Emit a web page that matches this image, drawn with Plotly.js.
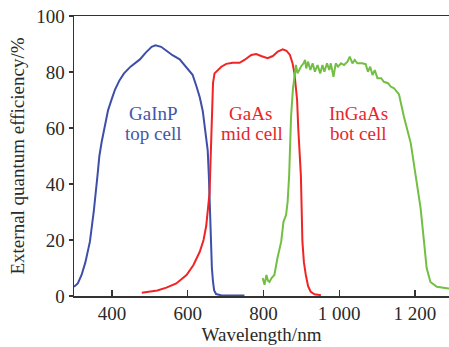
<!DOCTYPE html>
<html>
<head>
<meta charset="utf-8">
<script src="https://cdn.plot.ly/plotly-3.0.1.min.js"></script>
<style>html,body{margin:0;padding:0;background:#fff;}#chart{width:449px;height:347px;}</style>
</head>
<body>
<div id="chart"></div>
<script>
// GaInP top cell
const gainpWl  = [300,310,320,330,342,352,362,367,373,379,390,400,408,420,432,450,474,490,505,515,530,545,560,579,595,613,623,632,640,647,653,656,659,662,664,667,670,675,690,720,750];
const gainpEqe = [3.3,4.5,7.5,12,19.4,30,43,50,55,59.3,66.4,70.5,73.6,77,79.5,82,84.5,87,89,89.5,89,87.5,86,84.5,82,79,75,71,66,59.3,52,43,30,18,10,5,2,0.7,0.2,0.2,0.2];
// GaAs mid cell
const gaasWl  = [479,500,520,544,570,597,615,632,642,649,655,658,660,663,665,667,671,680,689,702,719,737,750,768,781,794,811,825,838,851,861,870,877,882,886,889,892,895,899,903,907,912,918,925,935,952];
const gaasEqe = [1.2,1.5,2,3,4.5,7.5,11,15.8,20,25,32,37,46,60,70,76,79.5,80.7,81.9,82.9,83.3,83.3,84.3,86.1,86.4,85.7,84.9,85.7,87.3,88.1,87.6,86.1,83.1,79.5,74.8,70,60,52,43,19.4,12,7.5,3.5,1.5,0.6,0.3];
// InGaAs bottom cell
const ingaasWl  = [798,803,808,812,816,822,829,837,847,853,860,864,868,873,878,882,886,890,899,906,910,913,918,924,930,936,943,950,956,961,968,974,978,985,991,997,1005,1013,1022,1028,1035,1041,1048,1061,1070,1076,1082,1088,1094,1101,1111,1118,1129,1136,1145,1158,1171,1189,1201,1215,1224,1231,1241,1258,1284,1290];
const ingaasEqe = [6.4,4,7.5,5.5,5,6.5,7.5,13.5,19.4,26.5,29,33.7,43,64,74,78.3,82.5,79.5,81.9,83.1,84.3,81.3,83.7,80.7,83.1,80.1,82.5,79.5,82.5,80.1,83.1,80.7,83.1,78.3,83.1,81.9,83.1,82.5,83.7,85.5,83.1,84.3,83.1,83.1,82.8,80.1,81.9,78.9,80.7,77.8,77.8,76.5,76,74.8,74.2,72,64,54.6,43,31.4,19.4,10,5,3.3,2.8,2.7];

const xTickVals = [400,600,800,1000,1200];
const xTickText = ['400','600','800','1 000','1 200'];
const labels = [
  {x:[153,153], text:['GaInP','top cell'], color:'#4257a8'},
  {x:[250,252], text:['GaAs','mid cell'], color:'#e8262a'},
  {x:[358,358], text:['InGaAs','bot cell'], color:'#e8262a'}
];

const FONT = 'Liberation Serif, Times New Roman, serif';
const traces = [
  {x:gainpWl, y:gainpEqe, mode:'lines', line:{color:'#3d4fa8', width:2}},
  {x:gaasWl, y:gaasEqe, mode:'lines', line:{color:'#f02424', width:2}},
  {x:ingaasWl, y:ingaasEqe, mode:'lines', line:{color:'#72bf44', width:2}}
];

const annotations = [];
labels.forEach(l => {
  annotations.push({xref:'paper', yref:'paper', x:(l.x[0]-74)/375, y:(296-113)/280, text:l.text[0], showarrow:false, font:{family:FONT, size:19, color:l.color}, xanchor:'center', yanchor:'middle'});
  annotations.push({xref:'paper', yref:'paper', x:(l.x[1]-74)/375, y:(296-133)/280, text:l.text[1], showarrow:false, font:{family:FONT, size:19, color:l.color}, xanchor:'center', yanchor:'middle'});
});

const layout = {
  width:449, height:347,
  margin:{l:74, r:0, t:16, b:51},
  paper_bgcolor:'#fff', plot_bgcolor:'#fff',
  showlegend:false,
  font:{family:FONT, size:19, color:'#2a2a2a'},
  xaxis:{range:[300,1290], tickvals:xTickVals, ticktext:xTickText, ticks:'inside', ticklen:6, tickwidth:1.3, tickcolor:'#333',
    showline:true, linecolor:'#333', linewidth:1.5, mirror:true, showgrid:false, zeroline:false,
    tickfont:{family:FONT, size:19, color:'#2a2a2a'},
    title:{text:'Wavelength/nm', font:{family:FONT, size:19, color:'#2a2a2a'}, standoff:4}},
  yaxis:{range:[0,100], dtick:20, ticks:'outside', ticklen:4, tickwidth:1.3, tickcolor:'#333',
    showline:true, linecolor:'#333', linewidth:1.5, showgrid:false, zeroline:false,
    tickfont:{family:FONT, size:19, color:'#2a2a2a'},
    title:{text:'External quantum efficiency/%', font:{family:FONT, size:19, color:'#2a2a2a'}, standoff:6}},
  annotations:annotations
};
Plotly.newPlot('chart', traces, layout, {displayModeBar:false, staticPlot:true});
</script>
</body>
</html>
